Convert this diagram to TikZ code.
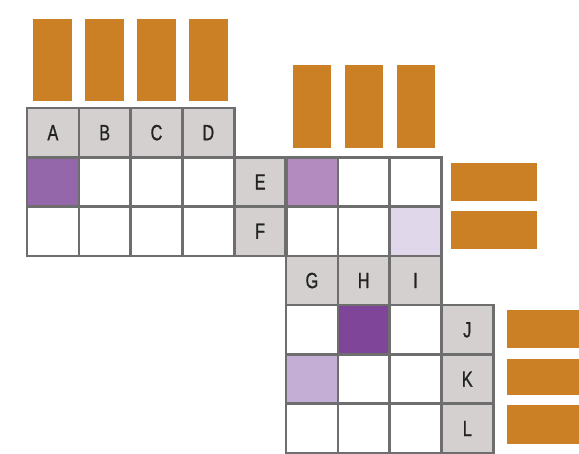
\documentclass[tikz,border=0pt]{standalone}
\usepackage{fontspec}
\setmainfont{Liberation Sans}[FakeStretch=0.74,FakeBold=0.9]
\definecolor{bar}{HTML}{CB8026}
\definecolor{hdr}{HTML}{D3D0CF}
\definecolor{bord}{HTML}{6E6E6E}
\definecolor{pA}{HTML}{9466AA}
\definecolor{pE}{HTML}{B38BBF}
\definecolor{pF}{HTML}{E0D8EA}
\definecolor{pH}{HTML}{7E4599}
\definecolor{pK}{HTML}{C4AED6}
\definecolor{txt}{HTML}{222222}
\begin{document}
\begin{tikzpicture}[x=1pt,y=-1pt,
  cell/.style={draw=bord,line width=2.6pt,fill=white,minimum width=51.8pt,minimum height=49.3pt,inner sep=0pt,outer sep=0pt,anchor=north west,text=txt,font=\fontsize{22}{22}\selectfont},
  head/.style={cell,fill=hdr},
  vbar/.style={fill=bar,draw=none,minimum width=39pt,inner sep=0pt,outer sep=0pt,anchor=south},
  hbar/.style={fill=bar,draw=none,minimum height=38pt,inner sep=0pt,outer sep=0pt,anchor=west}]
\useasboundingbox (0,0) rectangle (579,454);
% top bars grid 1
\node[vbar,minimum height=82pt] (bA) at (52.9,101) {};
\node[vbar,minimum height=82pt] (bB) at (104.7,101) {};
\node[vbar,minimum height=82pt] (bC) at (156.5,101) {};
\node[vbar,minimum height=82pt] (bD) at (208.3,101) {};
% top bars grid 2
\node[vbar,minimum height=83pt,minimum width=38pt] (bG) at (311.9,148) {};
\node[vbar,minimum height=83pt,minimum width=38pt] (bHb) at (363.7,148) {};
\node[vbar,minimum height=83pt,minimum width=38pt] (bI) at (415.5,148) {};
% side bars
\node[hbar,minimum width=86pt] (bE) at (451,182.5) {};
\node[hbar,minimum width=86pt] (bF) at (451,230) {};
\node[hbar,minimum width=80pt] (bJ) at (507,329) {};
\node[hbar,minimum width=80pt,minimum height=36pt] (bK) at (507,377) {};
\node[hbar,minimum width=80pt,minimum height=39pt] (bL) at (507,424.5) {};
% grid 1 header
\node[head] (A) at (27,108) {A};
\node[head] (B) at (78.8,108) {B};
\node[head] (C) at (130.6,108) {C};
\node[head] (D) at (182.4,108) {D};
% grid 1 body
\node[cell,fill=pA] (a11) at (27,157.3) {};
\node[cell] (a12) at (78.8,157.3) {};
\node[cell] (a13) at (130.6,157.3) {};
\node[cell] (a14) at (182.4,157.3) {};
\node[cell] (a21) at (27,206.6) {};
\node[cell] (a22) at (78.8,206.6) {};
\node[cell] (a23) at (130.6,206.6) {};
\node[cell] (a24) at (182.4,206.6) {};
% E F labels
\node[head] (E) at (234.2,157.3) {E};
\node[head] (F) at (234.2,206.6) {F};
% grid 2 body
\node[cell,fill=pE] (b11) at (286,157.3) {};
\node[cell] (b12) at (337.8,157.3) {};
\node[cell] (b13) at (389.6,157.3) {};
\node[cell] (b21) at (286,206.6) {};
\node[cell] (b22) at (337.8,206.6) {};
\node[cell,fill=pF] (b23) at (389.6,206.6) {};
% grid 3 header
\node[head] (G) at (286,255.9) {G};
\node[head] (H) at (337.8,255.9) {H};
\node[head] (I) at (389.6,255.9) {I};
% grid 3 body
\node[cell] (c11) at (286,305.2) {};
\node[cell,fill=pH] (c12) at (337.8,305.2) {};
\node[cell] (c13) at (389.6,305.2) {};
\node[cell,fill=pK] (c21) at (286,354.5) {};
\node[cell] (c22) at (337.8,354.5) {};
\node[cell] (c23) at (389.6,354.5) {};
\node[cell] (c31) at (286,403.8) {};
\node[cell] (c32) at (337.8,403.8) {};
\node[cell] (c33) at (389.6,403.8) {};
% J K L labels
\node[head] (J) at (441.4,305.2) {J};
\node[head] (K) at (441.4,354.5) {K};
\node[head] (L) at (441.4,403.8) {L};
% thicker shared edge between label column and grid 2
\draw[draw=bord,line width=4pt] (E.north east) -- (F.south east);
\end{tikzpicture}
\end{document}
